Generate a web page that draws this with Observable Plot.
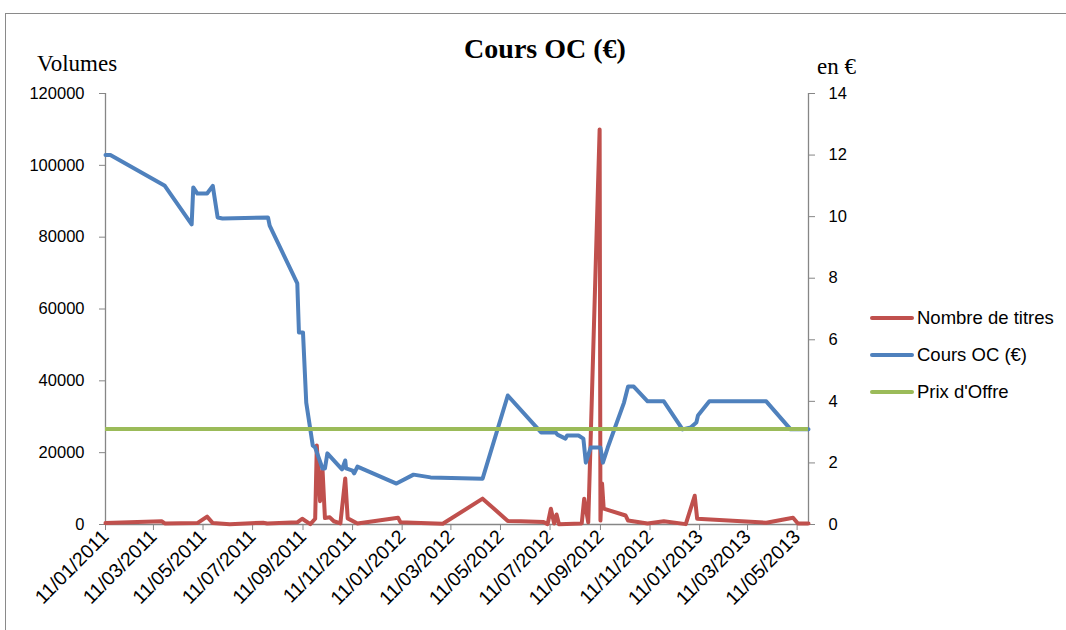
<!DOCTYPE html>
<html>
<head>
<meta charset="utf-8">
<script src="https://cdn.jsdelivr.net/npm/d3@7"></script>
<script src="https://cdn.jsdelivr.net/npm/@observablehq/plot@0.6"></script>
<style>
  html, body { margin: 0; padding: 0; background: #fff; }
  #wrap { position: relative; width: 1066px; height: 630px; overflow: hidden; background: #fff; }
  #frame { position: absolute; left: 5px; top: 13px; width: 1100px; height: 700px; border-left: 1.5px solid #8a8a8a; border-top: 1.5px solid #8a8a8a; }
  #chart { position: absolute; left: 0; top: 0; }
  .serif { position: absolute; font-family: "Liberation Serif", "Times New Roman", serif; color: #000; white-space: nowrap; }
  #title { left: 545px; top: 33px; transform: translateX(-50%); font-weight: bold; font-size: 28px; }
  #ylab { left: 37px; top: 51px; font-size: 23px; }
  #y2lab { left: 817px; top: 54px; font-size: 23px; }
  #legend { position: absolute; left: 870px; top: 0; font-family: "Liberation Sans", Arial, sans-serif; font-size: 18.5px; color: #000; }
  .item { position: absolute; left: 0; height: 24px; display: flex; align-items: center; white-space: nowrap; }
  .swatch { width: 44px; height: 4px; border-radius: 2px; margin-right: 3px; }
</style>
</head>
<body>
<div id="wrap">
  <div id="frame"></div>
  <div id="chart"></div>
  <div id="title" class="serif"></div>
  <div id="ylab" class="serif"></div>
  <div id="y2lab" class="serif"></div>
  <div id="legend"></div>
</div>
<script>
// ---- Data ----
const titleText = "Cours OC (€)";
const leftAxisTitle = "Volumes";
const rightAxisTitle = "en €";
const seriesNames = ["Nombre de titres", "Cours OC (€)", "Prix d'Offre"];
const seriesColors = ["#C0504D", "#4F81BD", "#9BBB59"];

const volDates = ["2011-01-11","2011-03-21","2011-03-25","2011-05-04","2011-05-16","2011-05-23","2011-06-13","2011-07-24","2011-07-29","2011-09-04","2011-09-10","2011-09-20","2011-09-26","2011-09-28","2011-10-02","2011-10-05","2011-10-08","2011-10-14","2011-10-19","2011-10-27","2011-11-02","2011-11-05","2011-11-17","2012-01-06","2012-01-09","2012-01-25","2012-03-01","2012-04-19","2012-05-20","2012-06-05","2012-07-03","2012-07-08","2012-07-12","2012-07-16","2012-07-19","2012-07-22","2012-08-19","2012-08-22","2012-08-27","2012-09-10","2012-09-11","2012-09-13","2012-09-15","2012-10-12","2012-10-15","2012-11-08","2012-11-28","2012-12-25","2013-01-05","2013-01-08","2013-04-03","2013-05-06","2013-05-12","2013-05-25"];
const volValues = [400,900,300,400,2200,400,100,500,300,600,1600,100,1600,22000,6500,15500,1800,2000,900,300,12800,1700,300,1900,600,500,200,7200,1000,900,700,100,4400,300,2800,100,300,7200,600,110000,1100,11400,4400,2500,1100,300,900,100,8000,1600,500,1900,300,300];

const coursDates = ["2011-01-11","2011-01-17","2011-03-25","2011-04-27","2011-04-29","2011-05-04","2011-05-16","2011-05-23","2011-05-29","2011-06-04","2011-07-30","2011-08-01","2011-09-04","2011-09-06","2011-09-11","2011-09-15","2011-09-23","2011-09-26","2011-10-05","2011-10-08","2011-10-11","2011-10-29","2011-11-02","2011-11-03","2011-11-11","2011-11-13","2011-11-17","2012-01-04","2012-01-25","2012-02-15","2012-04-19","2012-05-20","2012-06-30","2012-07-18","2012-07-20","2012-07-30","2012-08-01","2012-08-15","2012-08-21","2012-08-24","2012-08-30","2012-09-11","2012-09-14","2012-09-20","2012-10-10","2012-10-15","2012-10-22","2012-11-08","2012-11-28","2012-12-21","2012-12-31","2013-01-07","2013-01-09","2013-01-23","2013-04-03","2013-05-03","2013-05-25"];
const coursValues = [12.0,12.0,11.0,9.75,10.95,10.75,10.75,11.0,9.97,9.94,9.97,9.71,7.83,6.24,6.24,3.96,2.57,2.5,1.82,1.82,2.31,1.79,2.08,1.82,1.75,1.66,1.88,1.33,1.62,1.53,1.49,4.19,2.99,2.99,2.92,2.79,2.89,2.89,2.79,2.01,2.5,2.5,2.01,2.5,3.96,4.48,4.48,4.0,4.0,3.09,3.15,3.31,3.54,4.0,4.0,3.09,3.09];

const offerPrice = 3.1;

const xStart = "2011-01-11";
const xEnd = "2013-05-25";
const xTickDates = ["2011-01-11","2011-03-11","2011-05-11","2011-07-11","2011-09-11","2011-11-11","2012-01-11","2012-03-11","2012-05-11","2012-07-11","2012-09-11","2012-11-11","2013-01-11","2013-03-11","2013-05-11"];
const leftTicks = [0, 20000, 40000, 60000, 80000, 100000, 120000];
const rightTicks = [0, 2, 4, 6, 8, 10, 12, 14];
const leftMax = 120000;
const rightMax = 14;

// ---- Build ----
const parse = d3.utcParse("%Y-%m-%d");
const k = leftMax / rightMax; // secondary axis mapping
const vol = volDates.map((d, i) => ({date: parse(d), v: volValues[i]}));
const cours = coursDates.map((d, i) => ({date: parse(d), v: coursValues[i]}));
const xDomain = [parse(xStart), parse(xEnd)];
const fmt = d3.utcFormat("%d/%m/%Y");
const axisGray = "#868686";

const chart = Plot.plot({
  width: 1066,
  height: 630,
  marginLeft: 105,
  marginRight: 258,
  marginTop: 93,
  marginBottom: 106,
  style: {fontFamily: "'Liberation Sans', Arial, sans-serif", fontSize: "16.5px", color: "#000", background: "transparent", overflow: "visible"},
  x: {type: "utc", domain: xDomain},
  y: {domain: [0, leftMax]},
  marks: [
    Plot.axisY(leftTicks, {anchor: "left", tickSize: 6, tickPadding: 15, label: null, stroke: axisGray, tickFormat: d => String(d), fontSize: 16.5}),
    Plot.axisY(rightTicks.map(v => v * k), {anchor: "right", tickSize: 6, tickPadding: 14, label: null, stroke: axisGray, tickFormat: d => String(Math.round(d / k)), fontSize: 16.5}),
    Plot.axisX(xTickDates.map(parse), {anchor: "bottom", tickSize: 6, tickPadding: 3, tickRotate: -45, label: null, stroke: axisGray, tickFormat: fmt, fontSize: 19.5}),
    Plot.ruleX([xDomain[0], xDomain[1]], {stroke: axisGray, strokeWidth: 1.3}),
    Plot.ruleY([0], {stroke: axisGray, strokeWidth: 1.3}),
    Plot.line(vol, {x: "date", y: "v", stroke: seriesColors[0], strokeWidth: 4, strokeLinejoin: "round", strokeLinecap: "round"}),
    Plot.line(cours, {x: "date", y: d => d.v * k, stroke: seriesColors[1], strokeWidth: 4, strokeLinejoin: "round", strokeLinecap: "round"}),
    Plot.ruleY([offerPrice], {y: d => d * k, stroke: seriesColors[2], strokeWidth: 4})
  ]
});
document.getElementById("chart").appendChild(chart);

document.getElementById("title").textContent = titleText;
document.getElementById("ylab").textContent = leftAxisTitle;
document.getElementById("y2lab").textContent = rightAxisTitle;

const legend = document.getElementById("legend");
const legendTops = [306, 343, 380];
seriesNames.forEach((name, i) => {
  const it = document.createElement("div");
  it.className = "item";
  it.style.top = legendTops[i] + "px";
  const sw = document.createElement("div");
  sw.className = "swatch";
  sw.style.background = seriesColors[i];
  const tx = document.createElement("span");
  tx.textContent = name;
  it.appendChild(sw);
  it.appendChild(tx);
  legend.appendChild(it);
});
</script>
</body>
</html>
